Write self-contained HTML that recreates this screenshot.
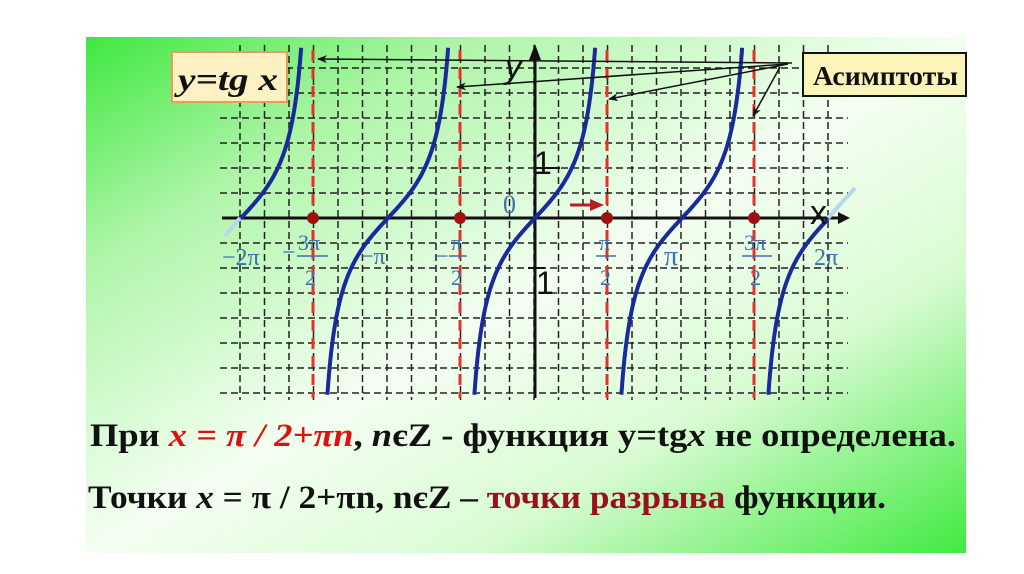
<!DOCTYPE html>
<html><head><meta charset="utf-8"><style>
body{margin:0;background:#fff;}
svg{display:block;}
</style></head><body>
<svg id="s" width="1024" height="574" viewBox="0 0 1024 574" xmlns="http://www.w3.org/2000/svg">
<defs>
<linearGradient id="bg" x1="0" y1="0" x2="1" y2="1">
<stop offset="0" stop-color="#3fe83f"/>
<stop offset="0.22" stop-color="#aef5a8"/>
<stop offset="0.5" stop-color="#f4fff2"/>
<stop offset="0.72" stop-color="#d8fbd2"/>
<stop offset="1" stop-color="#40ea40"/>
</linearGradient>
<marker id="ah" markerWidth="10" markerHeight="8" refX="9" refY="4" orient="auto" markerUnits="userSpaceOnUse"><path d="M0,0 L10,4 L0,8 L3,4Z" fill="#111"/></marker>
</defs>
<rect x="86" y="37" width="880" height="516" fill="url(#bg)"/>
<g id="grid" stroke="#222" stroke-width="1.5" stroke-dasharray="7,4"></g>
<g id="asym" stroke="#e8302a" stroke-width="3" stroke-dasharray="11,7"></g>
<line x1="222" y1="218" x2="838" y2="218" stroke="#111" stroke-width="3"/>
<path d="M838,212 L850,218 L838,224Z" fill="#111"/>
<line x1="535" y1="398" x2="535" y2="50" stroke="#111" stroke-width="3"/>
<path d="M529,60 L535,44 L541,60Z" fill="#111"/>
<line x1="535" y1="168" x2="560" y2="168" stroke="#111" stroke-width="2"/>
<line x1="528" y1="268" x2="545" y2="268" stroke="#111" stroke-width="2"/>
<g id="curves" fill="none" stroke="#1a2a9a" stroke-width="4"></g>
<path d="M240,218 L225,236" stroke="#b8d8ee" stroke-width="4"/>
<path d="M828,218 L855,188" stroke="#b8d8ee" stroke-width="4"/>
<g fill="#a01010"><circle cx="313" cy="218" r="6"/><circle cx="460" cy="218" r="6"/><circle cx="607" cy="218" r="6"/><circle cx="754" cy="218" r="6"/></g>
<path d="M570,205 L594,205" stroke="#b0202a" stroke-width="3"/><path d="M590,199 L604,205 L590,211Z" fill="#b0202a"/>
<g font-family="Liberation Sans, sans-serif" fill="#111">
<text x="505" y="78" font-size="34" font-style="italic">y</text>
<text x="810" y="224" font-size="34">x</text>
<text x="534" y="174" font-size="32">1</text>
<text x="536" y="294" font-size="32">1</text>
</g>
<g font-family="Liberation Serif, serif" fill="#3a6fb0" font-size="24">
<text x="503" y="213" font-size="26">0</text>
<text x="222" y="265">−2π</text>
<text x="282" y="260">−</text><text x="298" y="250" font-size="22">3π</text><line x1="297" y1="256" x2="328" y2="256" stroke="#3a6fb0" stroke-width="1.5"/><text x="305" y="285" font-size="22">2</text>
<text x="360" y="264">−π</text>
<text x="435" y="264">−</text><text x="451" y="250" font-size="22">π</text><line x1="449" y1="256" x2="467" y2="256" stroke="#3a6fb0" stroke-width="1.5"/><text x="451" y="285" font-size="22">2</text>
<text x="599" y="250" font-size="22">π</text><line x1="596" y1="256" x2="616" y2="256" stroke="#3a6fb0" stroke-width="1.5"/><text x="600" y="285" font-size="22">2</text>
<text x="664" y="265" font-size="28">π</text>
<text x="744" y="250" font-size="22">3π</text><line x1="742" y1="256" x2="772" y2="256" stroke="#3a6fb0" stroke-width="1.5"/><text x="750" y="285" font-size="22">2</text>
<text x="814" y="265">2π</text>
</g>
<rect x="172" y="52" width="115" height="50" fill="#fdf1c4" stroke="#e0a060" stroke-width="2"/>
<text x="178" y="90" font-family="Liberation Serif, serif" font-weight="bold" font-style="italic" font-size="32" fill="#111" textLength="100" lengthAdjust="spacingAndGlyphs">y=tg x</text>
<rect x="803" y="53" width="163" height="43" fill="#fbf4b8" stroke="#111" stroke-width="2"/>
<text x="813" y="85" font-family="Liberation Serif, serif" font-weight="bold" font-size="27" fill="#111" textLength="145" lengthAdjust="spacingAndGlyphs">Асимптоты</text>
<g stroke="#111" stroke-width="1.5" fill="none" marker-end="url(#ah)">
<line x1="792" y1="63" x2="318" y2="59"/>
<line x1="788" y1="64" x2="457" y2="87"/>
<line x1="788" y1="64" x2="609" y2="99"/>
<line x1="780" y1="67" x2="753" y2="116"/>
</g>
<g font-family="Liberation Serif, serif" font-weight="bold" font-size="33" fill="#111">
<text x="90" y="446" textLength="866" lengthAdjust="spacingAndGlyphs">При <tspan fill="#e01010" font-style="italic">x = π / 2+πn</tspan>, <tspan font-style="italic">n</tspan>єZ  - функция y=tg<tspan font-style="italic">x</tspan> не определена.</text>
<text x="88" y="508" textLength="798" lengthAdjust="spacingAndGlyphs">Точки <tspan font-style="italic">x</tspan> = π / 2+πn, nєZ – <tspan fill="#9a1020">точки разрыва</tspan> функции.</text>
</g>
</svg>
<script>
var NS="http://www.w3.org/2000/svg";
function el(p,t,a){var e=document.createElementNS(NS,t);for(var k in a)e.setAttribute(k,a[k]);document.getElementById(p).appendChild(e);}
for(var i=0;i<25;i++){var x=240+i*24.5;el("grid","line",{x1:x,y1:45,x2:x,y2:400});}
for(var j=-6;j<=7;j++){var y=218+j*25;if(j==0)continue;el("grid","line",{x1:220,y1:y,x2:848,y2:y});}
[313,460,607,754].forEach(function(x){el("asym","line",{x1:x,y1:50,x2:x,y2:398});});
var k=147/Math.PI;
[-2,-1,0,1,2].forEach(function(n){
 var c=535+n*147,d="",first=true;
 for(var t=-1.5;t<=1.5;t+=0.005){
  var x=c+t*k,y=218-50*Math.tan(t);
  if(y<45||y>395)continue;
  if(n==-2&&x<240)continue; if(n==2&&x>828)continue;
  d+=(first?"M":"L")+x.toFixed(1)+","+y.toFixed(1);first=false;}
 el("curves","path",{d:d});
});
</script>
</body></html>
